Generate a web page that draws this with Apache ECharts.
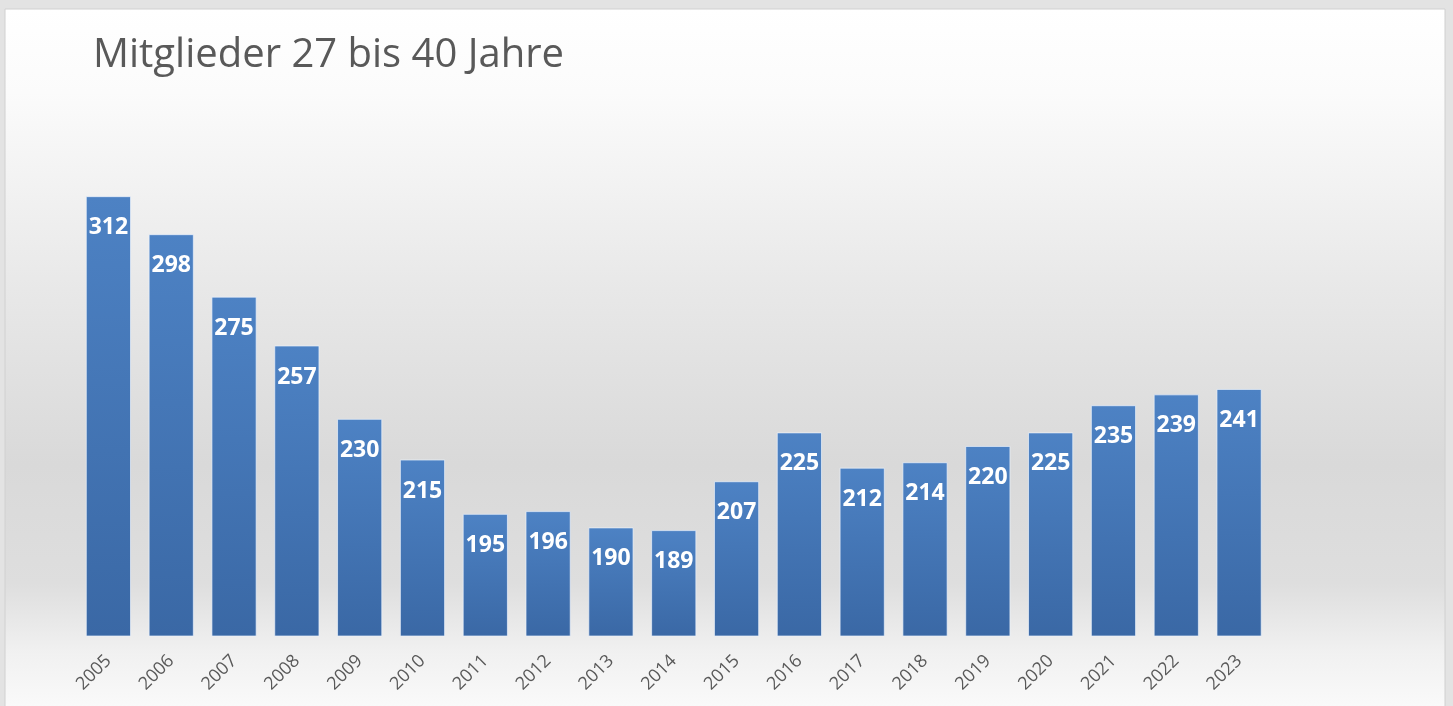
<!DOCTYPE html>
<html>
<head>
<meta charset="utf-8">
<script src="https://cdn.jsdelivr.net/npm/echarts@6/dist/echarts.min.js"></script>
<style>
html,body{margin:0;padding:0;background:#e3e3e3;}
#c{width:1453px;height:706px;}
</style>
</head>
<body>
<div id="c"></div>
<script>
const titleText = 'Mitglieder 27 bis 40 Jahre';
const years = ['2005','2006','2007','2008','2009','2010','2011','2012','2013','2014','2015','2016','2017','2018','2019','2020','2021','2022','2023'];
const members = [312,298,275,257,230,215,195,196,190,189,207,225,212,214,220,225,235,239,241];
const yMin = 150;
const yMax = 350;

const chart = echarts.init(document.getElementById('c'), null, {renderer:'canvas'});
chart.setOption({
  animation: false,
  backgroundColor: '#e3e3e3',
  graphic: [{
    type: 'rect', z: -10, silent: true,
    shape: {x: 5, y: 9, width: 1440, height: 700},
    style: {
      fill: new echarts.graphic.LinearGradient(0,0,0,1,[
        {offset:0, color:'#ffffff'},
        {offset:0.12, color:'#fbfbfb'},
        {offset:0.4, color:'#e8e8e8'},
        {offset:0.65, color:'#d9d9d9'},
        {offset:0.82, color:'#dedede'},
        {offset:0.92, color:'#f1f1f1'},
        {offset:1, color:'#fafafa'}
      ]),
      stroke: '#d0d0d0', lineWidth: 1
    }
  }],
  title: {
    text: titleText,
    left: 88, top: 31,
    textStyle: {fontFamily:'Open Sans', fontWeight:'normal', fontSize:40, color:'#595959'}
  },
  grid: {left: 77, right: 182.5, top: 93, bottom: 70, containLabel: false},
  xAxis: {
    type: 'category', data: years,
    axisLine: {show:false}, axisTick: {show:false},
    axisLabel: {rotate:45, margin:22, fontFamily:'Open Sans', fontSize:18, color:'#595959', interval:0}
  },
  yAxis: {
    type: 'value', min: yMin, max: yMax, show: false, splitLine:{show:false}
  },
  series: [{
    type: 'bar', data: members,
    barCategoryGap: '28%',
    itemStyle: {
      color: new echarts.graphic.LinearGradient(0,0,0,1,[
        {offset:0, color:'#4d82c4'},
        {offset:1, color:'#3a68a5'}
      ]),
      borderColor: 'rgba(235,242,252,0.7)', borderWidth: 1
    },
    label: {
      show: true, position: 'insideTop', distance: 20,
      fontFamily:'Open Sans', fontWeight:'bold', fontSize:23, color:'#ffffff'
    }
  }]
});
</script>
</body>
</html>
